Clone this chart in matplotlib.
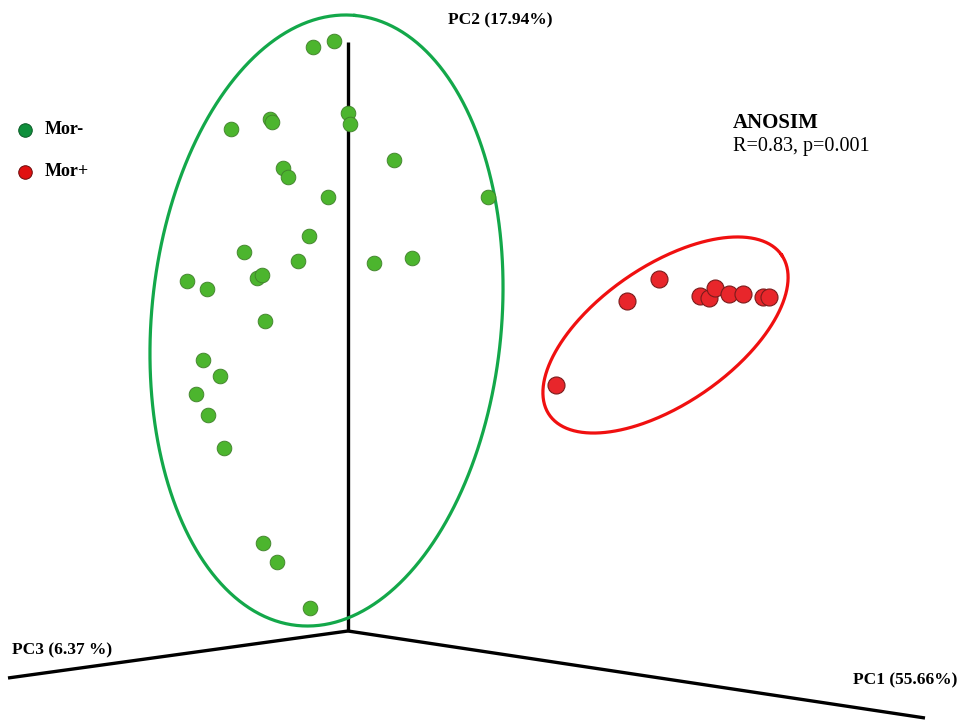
## PCoA ordination (projected 3D view) of Mor- / Mor+ samples with group ellipses

import numpy as np
import matplotlib.pyplot as plt

plt.rcParams['font.family'] = ['Liberation Serif', 'DejaVu Serif']

# projected sample positions (screen units of the 3D view)
mor_neg_x = [313, 334, 231, 270, 272, 348, 350, 283, 288, 394, 488, 328, 309, 244,
             298, 374, 412, 187, 207, 257, 262, 265, 203, 220, 196, 208, 224, 263,
             277, 310]
mor_neg_y = [47, 41, 129, 119, 122, 113, 124, 168, 177, 160, 197, 197, 236, 252,
             261, 263, 258, 281, 289, 278, 275, 321, 360, 376, 394, 415, 448, 543,
             562, 608]
mor_pos_x = [627, 659, 700, 709, 715, 729, 743, 763, 769, 556]
mor_pos_y = [301, 279, 296, 298, 288, 294, 294, 297, 297, 385]

# axis end points of the 3D frame
origin = (348, 631)
pc2_end = (348, 42)
pc3_end = (8, 678)
pc1_end = (925, 718)

axis_labels = ['PC1 (55.66%)', 'PC2 (17.94%)', 'PC3 (6.37 %)']
groups = ['Mor-', 'Mor+']
anosim_r = 0.83
anosim_p = 0.001


def ellipse_xy(cx, cy, a, b, ang_deg):
    # ang measured counter-clockwise from +x on screen (y grows downwards)
    t = np.linspace(0, 2 * np.pi, 400)
    ang = np.radians(ang_deg)
    d = np.array([np.cos(ang), -np.sin(ang)])
    n = np.array([np.sin(ang), np.cos(ang)])
    x = cx + a * np.cos(t) * d[0] + b * np.sin(t) * n[0]
    y = cy + a * np.cos(t) * d[1] + b * np.sin(t) * n[1]
    return x, y


fig = plt.figure(figsize=(9.61, 7.2), dpi=100)
ax = fig.add_axes([0, 0, 1, 1])
ax.set_xlim(0, 961)
ax.set_ylim(720, 0)
ax.axis('off')

# 3D frame
for end in (pc2_end, pc3_end, pc1_end):
    ax.plot([origin[0], end[0]], [origin[1], end[1]], color='black', lw=2.4,
            solid_capstyle='butt', zorder=1)

green = '#4cb52e'
red = '#e8262b'

ax.scatter(mor_neg_x, mor_neg_y, s=112, c=green, edgecolors='#3f7f2a',
           linewidths=0.6, zorder=3)
ax.scatter(mor_pos_x, mor_pos_y, s=150, c=red, edgecolors='#7a1c1c',
           linewidths=0.8, zorder=3)

ex, ey = ellipse_xy(326.5, 320.5, 306.4, 175.0, 84.7)
ax.plot(ex, ey, color='#13a84a', lw=2.3, zorder=2)
ex, ey = ellipse_xy(665.5, 335.0, 141.0, 69.0, 34.5)
ax.plot(ex, ey, color='#f01010', lw=2.3, zorder=2)

# axis labels
ax.text(448, 20, axis_labels[1], fontsize=12.5, fontweight='bold', va='center', ha='left')
ax.text(12, 650, axis_labels[2], fontsize=12.5, fontweight='bold', va='center', ha='left')
ax.text(853, 680, axis_labels[0], fontsize=12.5, fontweight='bold', va='center', ha='left')

# ANOSIM result
ax.text(733, 123, 'ANOSIM', fontsize=15, fontweight='bold', va='center', ha='left')
ax.text(733, 147, 'R=%.2f, p=%.3f' % (anosim_r, anosim_p), fontsize=14.5,
        va='center', ha='left')

# group key
key_y = [130, 172]
key_face = ['#0f8f3c', '#e01010']
key_edge = ['#0a5a26', '#6a0a0a']
for lab, yy, fc, ec in zip(groups, key_y, key_face, key_edge):
    ax.scatter([25], [yy], s=95, c=fc, edgecolors=ec, linewidths=0.7, zorder=3)
    ax.text(45, yy, lab, fontsize=13, fontweight='bold', va='center', ha='left')

fig.savefig('out.png', dpi=100)
